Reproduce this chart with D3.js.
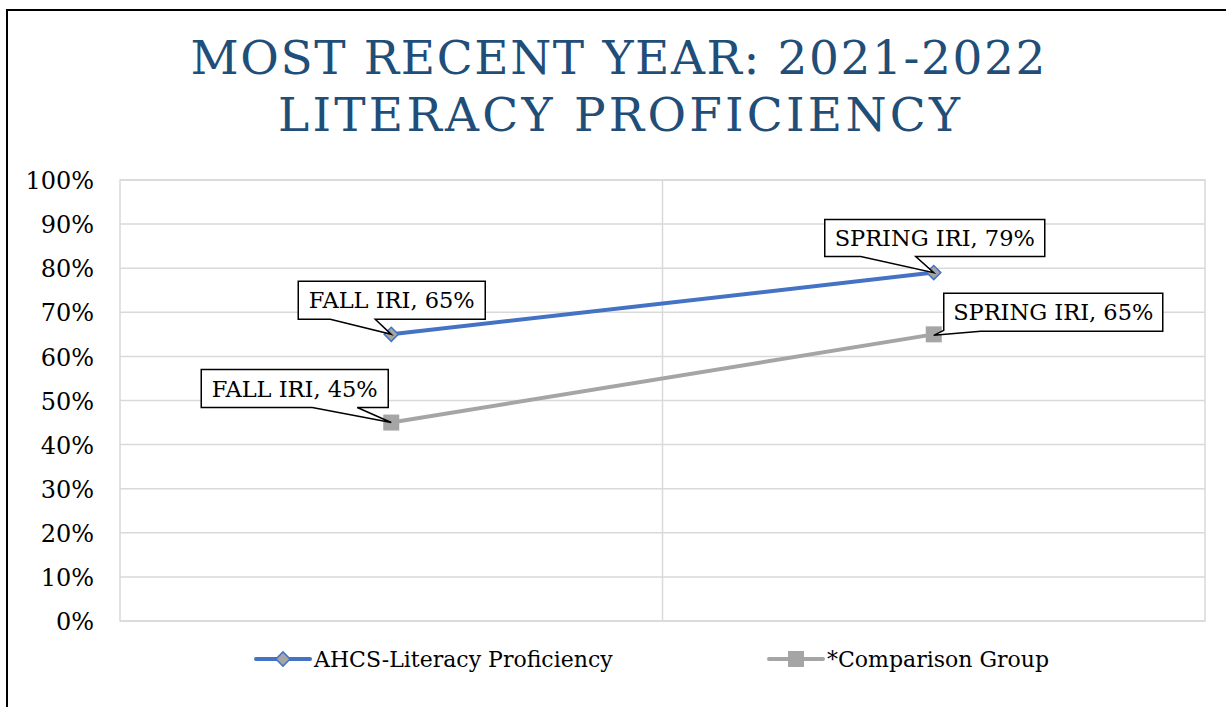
<!DOCTYPE html>
<html><head><meta charset="utf-8">
<script src="https://cdn.jsdelivr.net/npm/d3@7"></script>
<style>
html,body{margin:0;padding:0;background:#fff;}
svg{display:block;}
</style>
</head><body>
<svg id="chart" width="1226" height="707"></svg>
<script>
const titleLines = ["MOST RECENT YEAR: 2021-2022", "LITERACY PROFICIENCY"];
const categories = ["FALL IRI", "SPRING IRI"];
const seriesNames = ["AHCS-Literacy Proficiency", "*Comparison Group"];
const ahcsValues = [0.65, 0.79];
const comparisonValues = [0.45, 0.65];
const yTicks = [0, 0.1, 0.2, 0.3, 0.4, 0.5, 0.6, 0.7, 0.8, 0.9, 1.0];

const FONT = "'DejaVu Serif', serif";
const svg = d3.select("#chart");
const m = {left: 120, right: 1205, top: 180, bottom: 621};

// outer frame (left and top visible)
svg.append("rect").attr("x", 7).attr("y", 10).attr("width", 1240).attr("height", 720)
  .attr("fill", "none").attr("stroke", "#000").attr("stroke-width", 2);

// title
const title = svg.append("text").attr("fill", "#1f4e79").attr("font-family", FONT)
  .attr("font-size", 47).attr("text-anchor", "middle");
title.append("tspan").attr("x", 618).attr("y", 74).text(titleLines[0])
  .attr("textLength", 855).attr("lengthAdjust", "spacing");
title.append("tspan").attr("x", 619).attr("y", 131).text(titleLines[1])
  .attr("textLength", 682).attr("lengthAdjust", "spacing");

const x = d3.scaleBand().domain(categories).range([m.left, m.right]);
const y = d3.scaleLinear().domain([0, 1]).range([m.bottom, m.top]);
const cx = c => x(c) + x.bandwidth() / 2;

// grid
svg.append("g").selectAll("line").data(yTicks).join("line")
  .attr("x1", m.left).attr("x2", m.right).attr("y1", d => y(d)).attr("y2", d => y(d))
  .attr("stroke", "#d9d9d9").attr("stroke-width", 1.5);
svg.append("line").attr("x1", x(categories[1])).attr("x2", x(categories[1]))
  .attr("y1", m.top).attr("y2", m.bottom).attr("stroke", "#d9d9d9").attr("stroke-width", 1.5);
svg.append("rect").attr("x", m.left).attr("y", m.top).attr("width", m.right - m.left)
  .attr("height", m.bottom - m.top).attr("fill", "none").attr("stroke", "#d9d9d9").attr("stroke-width", 1.5);

// y axis
const yAxis = d3.axisLeft(y).tickValues(yTicks).tickFormat(d3.format(".0%")).tickSize(0).tickPadding(0);
const ya = svg.append("g").attr("transform", `translate(${m.left - 26},0)`).call(yAxis);
ya.select(".domain").remove();
ya.selectAll("text").attr("font-family", FONT).attr("font-size", 24).attr("fill", "#000").attr("dy", "0.36em");

const line = d3.line().x((d, i) => cx(categories[i])).y(d => y(d));
const blue = "#4472c4", gray = "#a5a5a5";

svg.append("path").datum(comparisonValues).attr("d", line).attr("fill", "none")
  .attr("stroke", gray).attr("stroke-width", 4).attr("stroke-linecap", "round");
svg.append("path").datum(ahcsValues).attr("d", line).attr("fill", "none")
  .attr("stroke", blue).attr("stroke-width", 4).attr("stroke-linecap", "round");

function drawDiamond(g, px, py) {
  g.append("rect").attr("x", px - 5).attr("y", py - 5).attr("width", 10).attr("height", 10)
    .attr("transform", `rotate(45 ${px} ${py})`).attr("fill", gray).attr("stroke", blue).attr("stroke-width", 1.5);
}
function drawSquare(g, px, py) {
  g.append("rect").attr("x", px - 8).attr("y", py - 8).attr("width", 16).attr("height", 16).attr("fill", gray);
}
comparisonValues.forEach((v, i) => drawSquare(svg, cx(categories[i]), y(v)));
ahcsValues.forEach((v, i) => drawDiamond(svg, cx(categories[i]), y(v)));

// callout labels: offsets of box relative to point, and wedge base
const pct = d3.format(".0%");
const labels = [
  {v: ahcsValues[0], i: 0, box: [-93, -53, 187, 38], wedge: [-61, -16]},
  {v: ahcsValues[1], i: 1, box: [-109, -53, 220, 37], wedge: [-73, -18]},
  {v: comparisonValues[0], i: 0, box: [-190, -53, 187, 38], wedge: [-79, -34]},
  {v: comparisonValues[1], i: 1, box: [10, -41, 219, 38], wedge: null},
];
labels.forEach(L => {
  const px = cx(categories[L.i]), py = y(L.v);
  const [bx, by, bw, bh] = L.box;
  const x0 = px + bx, y0 = py + by, x1 = x0 + bw, y1 = y0 + bh;
  let pts;
  if (L.wedge) {
    pts = [[x0, y0], [x1, y0], [x1, y1], [px + L.wedge[1], y1], [px, py], [px + L.wedge[0], y1], [x0, y1]];
  } else {
    pts = [[x0, y0], [x1, y0], [x1, y1], [x0 + 37, y1], [px, py + 1], [x0, y1 - 1]];
  }
  svg.append("polygon").attr("points", pts.map(p => p.join(",")).join(" "))
    .attr("fill", "#fff").attr("stroke", "#000").attr("stroke-width", 1.5);
  svg.append("text").attr("x", (x0 + x1) / 2).attr("y", (y0 + y1) / 2).attr("dy", "0.36em")
    .attr("text-anchor", "middle").attr("font-family", FONT).attr("font-size", 22.5)
    .text(`${categories[L.i]}, ${pct(L.v)}`);
});

// legend
const legend = [
  {name: seriesNames[0], color: blue, x: 256, marker: "d"},
  {name: seriesNames[1], color: gray, x: 769, marker: "s"},
];
legend.forEach(l => {
  const ly = 659;
  svg.append("line").attr("x1", l.x).attr("x2", l.x + 54).attr("y1", ly).attr("y2", ly)
    .attr("stroke", l.color).attr("stroke-width", 4).attr("stroke-linecap", "round");
  if (l.marker === "d") drawDiamond(svg, l.x + 27, ly); else drawSquare(svg, l.x + 27, ly);
  svg.append("text").attr("x", l.x + 58).attr("y", ly).attr("dy", "0.36em")
    .attr("font-family", FONT).attr("font-size", 22).text(l.name);
});
</script>
</body></html>
